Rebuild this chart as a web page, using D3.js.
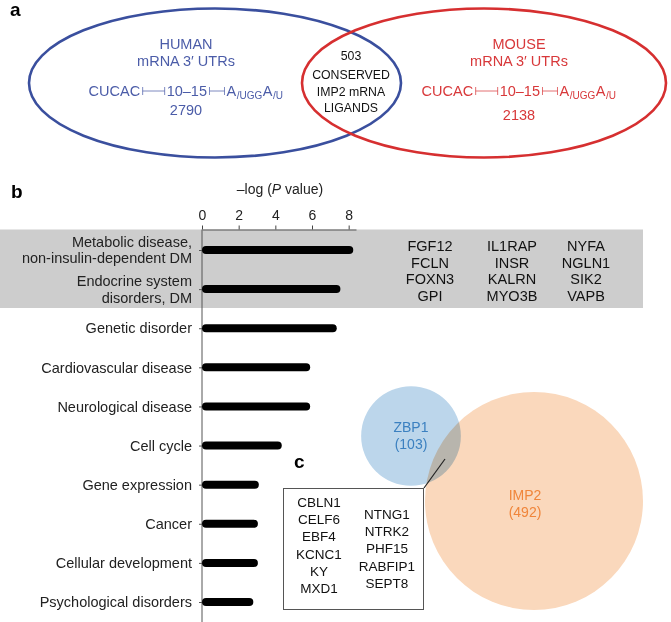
<!DOCTYPE html>
<html>
<head>
<meta charset="utf-8">
<script src="https://cdn.jsdelivr.net/npm/d3@7"></script>
<style>
  body { margin: 0; background: #fff; }
  text { font-family: "Liberation Sans", Arial, Helvetica, sans-serif; }
</style>
</head>
<body>
<div id="chart"></div>
<script>
// panel a
var species = ["HUMAN", "MOUSE"];
var speciesCounts = [2790, 2138];
var conservedCount = 503;
var conservedLines = ["CONSERVED", "IMP2 mRNA", "LIGANDS"];

// panel b
var categories = [
    "Metabolic disease,\nnon-insulin-dependent DM",
    "Endocrine system\ndisorders, DM",
    "Genetic disorder",
    "Cardiovascular disease",
    "Neurological disease",
    "Cell cycle",
    "Gene expression",
    "Cancer",
    "Cellular development",
    "Psychological disorders"];
var logP = [8.25, 7.55, 7.35, 5.9, 5.9, 4.35, 3.1, 3.05, 3.05, 2.8];
var xTicks = [0, 2, 4, 6, 8];
var diabetesGenes = [
    ["FGF12", "FCLN", "FOXN3", "GPI"],
    ["IL1RAP", "INSR", "KALRN", "MYO3B"],
    ["NYFA", "NGLN1", "SIK2", "VAPB"]];

// panel c
var vennNames = ["ZBP1", "IMP2"];
var vennCounts = [103, 492];
var overlapGenes = [
    ["CBLN1", "CELF6", "EBF4", "KCNC1", "KY", "MXD1"],
    ["NTNG1", "NTRK2", "PHF15", "RABFIP1", "SEPT8"]];

var width = 671, height = 622;
var svg = d3.select("#chart").append("svg")
    .attr("width", width)
    .attr("height", height);

function panelLabel(t, x, y) {
    svg.append("text").attr("x", x).attr("y", y)
        .style("font-size", "19px").style("font-weight", "bold")
        .text(t);
}

// ---------- a ----------
panelLabel("a", 10, 16);

var ell = [
    {cx: 215, cy: 83, rx: 186, ry: 74.5, stroke: "#3a4f9e", text: "#4b5ca8", tx: 186},
    {cx: 484, cy: 83, rx: 182, ry: 74.5, stroke: "#d62f30", text: "#d8383a", tx: 519}];

svg.append("g").selectAll("ellipse")
    .data(ell)
    .enter().append("ellipse")
        .attr("cx", function(d) { return d.cx; })
        .attr("cy", function(d) { return d.cy; })
        .attr("rx", function(d) { return d.rx; })
        .attr("ry", function(d) { return d.ry; })
        .attr("fill", "none")
        .attr("stroke", function(d) { return d.stroke; })
        .attr("stroke-width", 2.6);

ell.forEach(function(e, i) {
    var g = svg.append("g").attr("fill", e.text).style("font-size", "14.5px")
        .attr("text-anchor", "middle");
    g.append("text").attr("x", e.tx).attr("y", 49).text(species[i]);
    g.append("text").attr("x", e.tx).attr("y", 66).text("mRNA 3\u2032 UTRs");
    g.append("text").attr("x", e.tx).attr("y", i == 0 ? 115 : 120).text(speciesCounts[i]);

    // motif line, laid out piece by piece
    var m = svg.append("g").attr("fill", e.text);
    var parts = [
        {t: "CUCAC", s: 14.5, dy: 0},
        {gap: 26},
        {t: "10\u201315", s: 14.5, dy: 0},
        {gap: 19},
        {t: "A", s: 14.5, dy: 0},
        {t: "/UGG", s: 10, dy: 3},
        {t: "A", s: 14.5, dy: 0},
        {t: "/U", s: 10, dy: 3}];
    var x = 0, items = [];
    parts.forEach(function(p) {
        if (p.gap) { items.push({gap: p.gap, x: x}); x += p.gap; return; }
        var t = m.append("text").attr("y", 96 + p.dy).style("font-size", p.s + "px")
            .attr("x", x).text(p.t);
        var w = t.node().getComputedTextLength();
        items.push({node: t, x: x});
        x += w + 0.5;
    });
    var x0 = e.tx - x / 2;
    m.attr("transform", "translate(" + x0 + ",0)");
    items.forEach(function(it) {
        if (!it.gap) return;
        var a = it.x + 2, b = it.x + it.gap - 2, y = 91;
        m.append("path")
            .attr("d", "M" + a + "," + (y - 4) + "V" + (y + 4) + "M" + a + "," + y + "H" + b +
                "M" + b + "," + (y - 4) + "V" + (y + 4))
            .attr("stroke", e.text).attr("stroke-width", 0.9).attr("fill", "none").attr("opacity", 0.8);
    });
});

var cg = svg.append("g").attr("text-anchor", "middle").style("font-size", "12.3px").attr("fill", "#111");
cg.append("text").attr("x", 351).attr("y", 60).text(conservedCount);
conservedLines.forEach(function(l, i) {
    cg.append("text").attr("x", 351).attr("y", 79 + i * 16.5).text(l);
});

// ---------- b ----------
panelLabel("b", 11, 198);

var x = d3.scaleLinear().domain([0, 8.4]).range([202, 356]);
var y = d3.scalePoint().domain(categories).range([250, 602]);

svg.append("rect")
    .attr("x", 0).attr("y", 229.5)
    .attr("width", 643).attr("height", 78.5)
    .attr("fill", "#cdcdcd");

svg.append("g")
    .attr("transform", "translate(0,229.5)")
    .call(d3.axisTop(x).tickValues(xTicks).tickSize(4).tickSizeOuter(0).tickPadding(6))
    .call(function(g) {
        g.selectAll("text").style("font-size", "14px").attr("fill", "#222")
            .style("font-family", "Liberation Sans, Arial, sans-serif");
        g.selectAll("line").attr("stroke", "#444");
        g.select(".domain").attr("stroke", "#555");
    });

var title = svg.append("text").attr("x", 280).attr("y", 194)
    .attr("text-anchor", "middle").style("font-size", "14px").attr("fill", "#222");
title.append("tspan").text("\u2013log (");
title.append("tspan").style("font-style", "italic").text("P");
title.append("tspan").text(" value)");

svg.append("g")
    .attr("transform", "translate(202,0)")
    .call(d3.axisLeft(y).tickSize(3).tickSizeOuter(0).tickFormat(""))
    .call(function(g) {
        g.select(".domain").attr("d", "M0,229.5V622").attr("stroke", "#555");
        g.selectAll("line").attr("stroke", "#555");
    });

var lab = svg.append("g").selectAll("text")
    .data(categories)
    .enter().append("text")
        .attr("text-anchor", "end")
        .style("font-size", "14.5px")
        .attr("fill", "#222")
        .attr("transform", function(d) { return "translate(192," + y(d) + ")"; });
lab.each(function(d) {
    var lines = d.split("\n");
    var t = d3.select(this);
    lines.forEach(function(l, i) {
        t.append("tspan").attr("x", 0)
            .attr("y", (i - (lines.length - 1) / 2) * 16.5)
            .attr("dy", "0.36em").text(l);
    });
});

svg.append("g").selectAll("rect")
    .data(logP)
    .enter().append("rect")
        .attr("x", x(0))
        .attr("y", function(d, i) { return y(categories[i]) - 4; })
        .attr("width", function(d) { return x(d) - x(0); })
        .attr("height", 8)
        .attr("rx", 4)
        .attr("fill", "#000");

var colX = [430, 512, 586];
diabetesGenes.forEach(function(col, c) {
    svg.append("g").selectAll("text")
        .data(col)
        .enter().append("text")
            .attr("x", colX[c])
            .attr("y", function(d, i) { return 246 + i * 16.5; })
            .attr("dy", "0.36em")
            .attr("text-anchor", "middle")
            .style("font-size", "14.5px")
            .attr("fill", "#111")
            .text(function(d) { return d; });
});

// ---------- c ----------
var r = d3.scaleSqrt().domain([0, 492]).range([0, 109]);
var venn = [
    {cx: 411, cy: 436, fill: "#bcd6eb", text: "#3b80c0", tx: 411, ty: 432},
    {cx: 534, cy: 501, fill: "#fad8bc", text: "#f0853a", tx: 525, ty: 500}];

svg.append("g").selectAll("circle")
    .data([1, 0])
    .enter().append("circle")
        .attr("cx", function(i) { return venn[i].cx; })
        .attr("cy", function(i) { return venn[i].cy; })
        .attr("r", function(i) { return r(vennCounts[i]); })
        .attr("fill", function(i) { return venn[i].fill; })
        .style("mix-blend-mode", "multiply");

venn.forEach(function(v, i) {
    var t = svg.append("g").attr("text-anchor", "middle").attr("fill", v.text).style("font-size", "14px");
    t.append("text").attr("x", v.tx).attr("y", v.ty).text(vennNames[i]);
    t.append("text").attr("x", v.tx).attr("y", v.ty + 17).text("(" + vennCounts[i] + ")");
});

panelLabel("c", 294, 468);

svg.append("rect")
    .attr("x", 283.5).attr("y", 488.5)
    .attr("width", 140).attr("height", 121)
    .attr("fill", "#fff").attr("stroke", "#555").attr("stroke-width", 1);

svg.append("line")
    .attr("x1", 424).attr("y1", 488)
    .attr("x2", 445).attr("y2", 459)
    .attr("stroke", "#222").attr("stroke-width", 1.2);

var boxX = [319, 387], boxY = [502, 514];
overlapGenes.forEach(function(col, c) {
    svg.append("g").selectAll("text")
        .data(col)
        .enter().append("text")
            .attr("x", boxX[c])
            .attr("y", function(d, i) { return boxY[c] + i * 17.3; })
            .attr("dy", "0.36em")
            .attr("text-anchor", "middle")
            .style("font-size", "13.5px")
            .attr("fill", "#111")
            .text(function(d) { return d; });
});
</script>
</body>
</html>
